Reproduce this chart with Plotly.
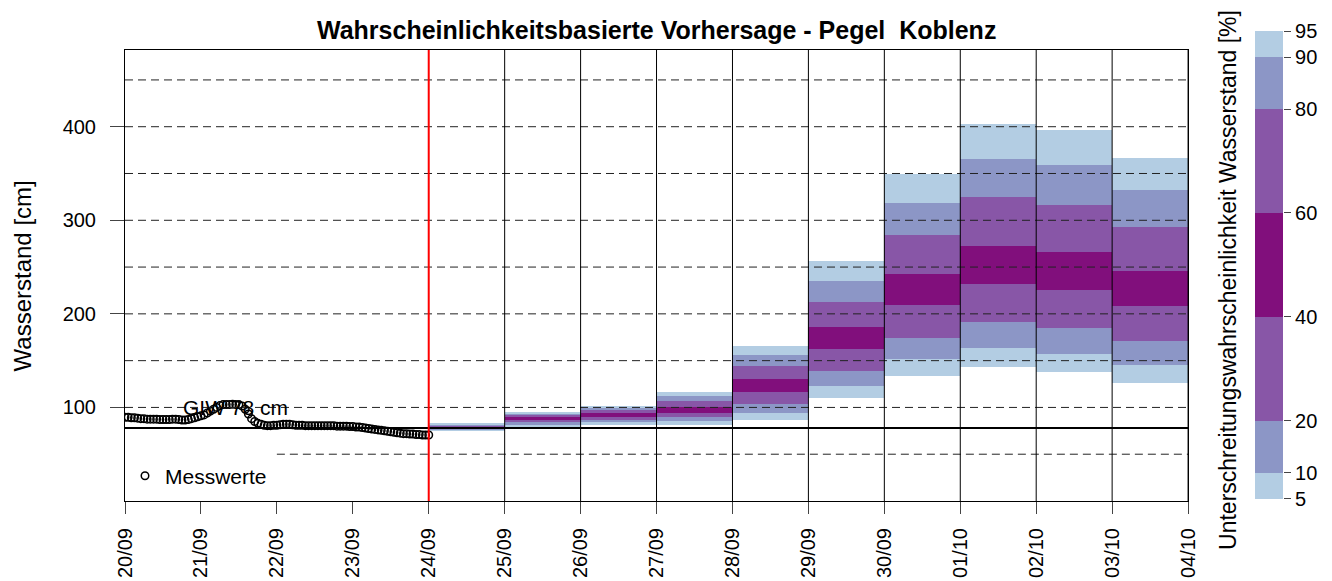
import pandas as pd
import plotly.graph_objects as go

# ---------------- data ----------------
title_text = "Wahrscheinlichkeitsbasierte Vorhersage - Pegel  Koblenz"
tick_dates = pd.date_range("2024-09-20", "2024-10-04", freq="D")
tick_labels = [d.strftime("%d/%m") for d in tick_dates]

# hourly observations 20/09 00:00 .. 24/09 00:00 (cm)
obs_values = [
    89.5, 89.5, 89, 89, 88.5, 88, 88, 87.5, 87.5, 87.5, 87.5, 87,
    87, 87, 87, 87.5, 87.5, 87, 86.5, 86.5, 87, 88, 89, 90,
    91, 92, 94, 96, 98, 100, 102, 103, 103, 103, 103.5, 103,
    103, 101.5, 98, 93, 88, 85, 83, 82, 81, 80.5, 80.5, 81,
    81, 81.5, 82, 82, 82, 81.5, 81, 81, 81, 80.5, 80.5, 80.5,
    80.5, 80.5, 80.5, 80.5, 80.5, 80.5, 80.5, 80, 80, 80, 80, 79.5,
    79.5, 79, 79, 78.5, 78, 77.5, 77, 76.5, 76, 75.5, 75, 74.5,
    74, 73.5, 73, 72.5, 72, 72, 71.5, 71.5, 71, 71, 70.5, 70.5,
    70.5,
]
obs_times = pd.date_range("2024-09-20 00:00", periods=len(obs_values), freq="h")

# forecast days (each box spans one day)
fc_days = pd.date_range("2024-09-24", periods=10, freq="D")
p05 = [75, 80, 81, 81, 87, 110.5, 134, 143, 137.5, 126.5]
p10 = [76, 82, 84, 86, 94, 123, 151.5, 164, 157.5, 145.5]
p20 = [77, 84, 87, 90, 103.5, 139, 174.5, 191, 185, 170.5]
p40 = [78, 87, 90, 94, 116, 162, 209, 232, 225.5, 208]
p60 = [79.5, 90, 94, 101, 130, 186, 242.5, 273, 266.5, 245.5]
p80 = [80.5, 92, 97, 107, 144, 213, 284.5, 324.5, 316.5, 293]
p90 = [82, 94, 100, 112, 156.5, 235.5, 319, 366, 359, 332]
p95 = [83, 95, 102, 117, 166, 256, 349, 402.5, 396, 366.5]

band_levels = [5, 10, 20, 40, 60, 80, 90, 95]
band_colors = ["#b3cde3", "#8c96c6", "#8856a7", "#810f7c", "#8856a7", "#8c96c6", "#b3cde3"]

giw_value = 78
giw_label = "GIW 78 cm"
grid_levels = [50, 100, 150, 200, 250, 300, 350, 400, 450]
y_ticks = [100, 200, 300, 400]

# ---------------- figure ----------------
FONT = "Liberation Sans, Arial, sans-serif"
DAY_MS = 86400000
fig = go.Figure()

quantiles = [p05, p10, p20, p40, p60, p80, p90, p95]
for i, col in enumerate(band_colors):
    lo = quantiles[i]
    hi = quantiles[i + 1]
    fig.add_trace(go.Bar(
        x=fc_days, base=lo, y=[h - l for h, l in zip(hi, lo)],
        offset=0, width=[DAY_MS] * len(fc_days),
        marker=dict(color=col, line=dict(width=0)),
        showlegend=False, hoverinfo="skip", xaxis="x", yaxis="y",
    ))

fig.add_trace(go.Scatter(
    x=obs_times, y=obs_values, mode="markers", name="Messwerte",
    marker=dict(symbol="circle-open", size=7.5, color="black", line=dict(width=1.5, color="black")),
    xaxis="x", yaxis="y",
))

# colour key as a stacked bar on its own axis
for i, col in enumerate(band_colors):
    fig.add_trace(go.Bar(
        x=[0.5], base=[band_levels[i]], y=[band_levels[i + 1] - band_levels[i]],
        width=[1], marker=dict(color=col, line=dict(width=0)),
        showlegend=False, hoverinfo="skip", xaxis="x2", yaxis="y2",
    ))

shapes = []
x_start, x_end = tick_dates[0], tick_dates[-1]
for g in grid_levels:
    shapes.append(dict(type="line", xref="x", yref="y",
                       x0=(tick_dates[2] if g == 50 else x_start), x1=x_end, y0=g, y1=g,
                       line=dict(color="#222222", width=1, dash="8px,5px"), layer="above"))
for d in tick_dates[5:]:
    shapes.append(dict(type="line", xref="x", yref="y domain", x0=d, x1=d, y0=0, y1=1,
                       line=dict(color="black", width=1), layer="above"))
shapes.append(dict(type="line", xref="x", yref="y", x0=x_start, x1=x_end, y0=giw_value, y1=giw_value,
                   line=dict(color="black", width=2), layer="above"))
shapes.append(dict(type="line", xref="x", yref="y domain", x0=tick_dates[4], x1=tick_dates[4], y0=0, y1=1,
                   line=dict(color="red", width=2), layer="above"))

annotations = [
    dict(text="<b>" + title_text + "</b>", xref="x domain", yref="paper", x=0.5, y=1,
         yanchor="middle", yshift=1, showarrow=False, font=dict(size=25, color="black", family=FONT)),
    dict(text="Wasserstand [cm]", xref="paper", yref="y domain", x=-0.0867, y=0.5, textangle=-90,
         xanchor="center", showarrow=False, font=dict(size=24, color="black", family=FONT)),
    dict(text="Unterschreitungswahrscheinlichkeit Wasserstand [%]", xref="paper", yref="paper",
         x=0.937, y=0.47, textangle=-90, xanchor="center", showarrow=False,
         font=dict(size=23, color="black", family=FONT)),
    dict(text=giw_label, xref="x", yref="y", x=tick_dates[1] + pd.Timedelta(hours=11), y=giw_value + 22,
         showarrow=False, font=dict(size=21, color="black", family=FONT)),
]

# the page body adds an 8 px offset, so the figure is 8 px smaller on each axis
fig.update_layout(
    width=1324, height=573,
    margin=dict(l=117, r=30, t=23, b=80),
    paper_bgcolor="white", plot_bgcolor="white",
    barmode="overlay", bargap=0,
    font=dict(family=FONT, size=20, color="black"),
    showlegend=True,
    legend=dict(x=0, y=0.053, xanchor="left", yanchor="middle", bgcolor="rgba(0,0,0,0)",
                font=dict(size=21), itemsizing="trace"),
    xaxis=dict(domain=[0, 0.9032], type="date", range=[x_start, x_end], automargin=False,
               tickvals=list(tick_dates), ticktext=tick_labels, tickangle=-90,
               ticks="outside", ticklen=12, tickcolor="#444444", ticklabelstandoff=6,
               showgrid=False, zeroline=False, showline=True, linecolor="black", linewidth=1,
               mirror=True, tickfont=dict(size=20)),
    yaxis=dict(domain=[0, 0.9596], range=[0, 482], tickvals=y_ticks, automargin=False,
               ticks="outside", ticklen=14, tickcolor="#444444", ticklabelstandoff=10,
               showgrid=False, zeroline=False, showline=True, linecolor="black", linewidth=1,
               mirror=True, tickfont=dict(size=20)),
    xaxis2=dict(domain=[0.9601, 0.9839], range=[0, 1], anchor="y2", showticklabels=False,
                automargin=False, showgrid=False, zeroline=False, showline=False, ticks=""),
    yaxis2=dict(domain=[0.0043, 1], range=[5, 95], anchor="x2", side="right", automargin=False,
                tickvals=band_levels, ticks="outside", ticklen=7, tickcolor="#444444",
                showgrid=False, zeroline=False, showline=False, tickfont=dict(size=20)),
    shapes=shapes, annotations=annotations,
)

fig.write_html("out.html")
